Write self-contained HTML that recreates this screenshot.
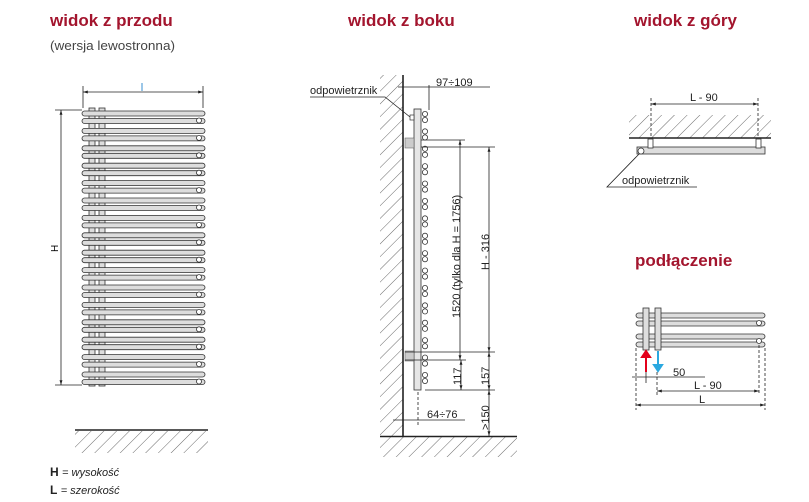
<!DOCTYPE html>
<html><head><meta charset="utf-8"><style>
html,body{margin:0;padding:0;background:#fff;}
svg{display:block;font-family:"Liberation Sans",sans-serif;}
.t{fill:#a3152e;font-weight:bold;font-size:17px;}
.s{font-size:11px;fill:#222;}
</style></head><body>
<svg id="s" width="809" height="502" viewBox="0 0 809 502" xmlns="http://www.w3.org/2000/svg">
<defs>
<pattern id="h" width="9" height="9" patternUnits="userSpaceOnUse" patternTransform="rotate(45)">
<line x1="0" y1="0" x2="0" y2="9" stroke="#444" stroke-width="0.8"/>
</pattern>
<marker id="a" viewBox="0 0 10 10" refX="10" refY="5" markerWidth="6" markerHeight="6" orient="auto-start-reverse"><path d="M0,2 L10,5 L0,8z" fill="#222"/></marker>
</defs>
<text class="t" x="50" y="26">widok z przodu</text>
<text x="50" y="50" font-size="13" fill="#444" textLength="125" lengthAdjust="spacingAndGlyphs">(wersja lewostronna)</text>
<text class="t" x="348" y="26">widok z boku</text>
<text class="t" x="634" y="26">widok z góry</text>
<text class="t" x="635" y="266">podłączenie</text>

<!-- front view -->
<g id="front" stroke="#333" stroke-width="0.8" fill="#ddd"></g>
<line x1="83" y1="92" x2="203" y2="92" stroke="#222" stroke-width="0.8" marker-start="url(#a)" marker-end="url(#a)"/>
<line x1="83" y1="86" x2="83" y2="108" stroke="#222" stroke-width="0.8"/>
<line x1="203" y1="86" x2="203" y2="108" stroke="#222" stroke-width="0.8"/>
<line x1="142" y1="83" x2="142" y2="91" stroke="#3a8fd0" stroke-width="1"/>
<line x1="55" y1="110" x2="82" y2="110" stroke="#222" stroke-width="0.8"/>
<line x1="55" y1="385" x2="82" y2="385" stroke="#222" stroke-width="0.8"/>
<line x1="61" y1="110" x2="61" y2="385" stroke="#222" stroke-width="0.8" marker-start="url(#a)" marker-end="url(#a)"/>
<text x="58" y="252" font-size="10" transform="rotate(-90 58 252)">H</text>
<rect x="75" y="431" width="133" height="22" fill="url(#h)"/>
<line x1="75" y1="430" x2="208" y2="430" stroke="#222" stroke-width="1.6"/>
<text x="50" y="476" font-size="12" fill="#222"><tspan font-weight="bold">H</tspan> <tspan font-style="italic" font-size="11">= wysokość</tspan></text>
<text x="50" y="494" font-size="12" fill="#222"><tspan font-weight="bold">L</tspan>  <tspan font-style="italic" font-size="11">= szerokość</tspan></text>

<!-- side view -->
<rect x="380" y="75" width="23" height="361" fill="url(#h)"/>
<rect x="380" y="437" width="137" height="20" fill="url(#h)"/>
<line x1="403" y1="75" x2="403" y2="437" stroke="#222" stroke-width="1.6"/>
<line x1="380" y1="436.5" x2="517" y2="436.5" stroke="#222" stroke-width="1.6"/>
<rect x="414" y="109" width="7" height="281" fill="#e6e6e6" stroke="#333" stroke-width="0.8"/>
<g id="side" fill="#fff" stroke="#333" stroke-width="0.8"></g>
<rect x="405" y="138" width="9" height="10" fill="#ccc" stroke="#555" stroke-width="0.5"/>
<rect x="405" y="351" width="9" height="10" fill="#ccc" stroke="#555" stroke-width="0.5"/>
<rect x="410" y="115" width="4" height="5" fill="#fff" stroke="#333" stroke-width="0.7"/>
<g stroke="#222" stroke-width="0.8" fill="none">
<line x1="398" y1="87" x2="490" y2="87"/>
<line x1="429" y1="85" x2="429" y2="110"/>
<line x1="421" y1="140" x2="465" y2="140"/>
<line x1="421" y1="147" x2="495" y2="147"/>
<line x1="405" y1="352" x2="495" y2="352"/>
<line x1="405" y1="360" x2="466" y2="360"/>
<line x1="425" y1="390" x2="495" y2="390"/>
<line x1="460" y1="140" x2="460" y2="360" marker-start="url(#a)" marker-end="url(#a)"/>
<line x1="489" y1="147" x2="489" y2="352" marker-start="url(#a)" marker-end="url(#a)"/>
<line x1="461" y1="360" x2="461" y2="390" marker-start="url(#a)" marker-end="url(#a)"/>
<line x1="489" y1="352" x2="489" y2="390" marker-start="url(#a)" marker-end="url(#a)"/>
<line x1="489" y1="390" x2="489" y2="436" marker-start="url(#a)" marker-end="url(#a)"/>
<line x1="393" y1="420" x2="465" y2="420"/>
<line x1="418" y1="392" x2="418" y2="425" stroke-dasharray="3,2"/>
<polyline points="310,97 385,97 410,117"/>
</g>
<text class="s" x="310" y="94">odpowietrznik</text>
<text class="s" x="436" y="86">97÷109</text>
<text class="s" x="427" y="418">64÷76</text>
<text class="s" transform="translate(460 318) rotate(-90)">1520 (tylko dla H = 1756)</text>
<text class="s" transform="translate(489 270) rotate(-90)">H - 316</text>
<text class="s" transform="translate(461 385) rotate(-90)">117</text>
<text class="s" transform="translate(489 385) rotate(-90)">157</text>
<text class="s" transform="translate(489 430) rotate(-90)">&gt;150</text>

<!-- top view -->
<rect x="629" y="115" width="142" height="23" fill="url(#h)"/>
<line x1="629" y1="138" x2="771" y2="138" stroke="#222" stroke-width="1.6"/>
<g stroke="#222" stroke-width="0.8" fill="none">
<line x1="651" y1="98" x2="651" y2="138" stroke-dasharray="3,2"/>
<line x1="758" y1="98" x2="758" y2="138" stroke-dasharray="3,2"/>
<line x1="651" y1="104" x2="758" y2="104" marker-start="url(#a)" marker-end="url(#a)"/>
<polyline points="640,153 607,187 697,187"/>
</g>
<text class="s" x="690" y="101">L - 90</text>
<rect x="637" y="147" width="128" height="7" fill="#ddd" stroke="#333" stroke-width="0.8"/>
<rect x="648" y="139" width="5" height="9" fill="#fff" stroke="#333" stroke-width="0.8"/>
<rect x="756" y="139" width="5" height="9" fill="#fff" stroke="#333" stroke-width="0.8"/>
<circle cx="641" cy="151" r="3" fill="#fff" stroke="#333" stroke-width="0.8"/>
<text class="s" x="622" y="184">odpowietrznik</text>

<!-- podłączenie -->
<g stroke="#333" stroke-width="0.8" fill="#ddd">
<rect x="636" y="313" width="129" height="5" rx="2.5"/>
<rect x="636" y="321" width="129" height="5" rx="2.5"/>
<rect x="636" y="334" width="129" height="5" rx="2.5"/>
<rect x="636" y="342" width="129" height="5" rx="2.5"/>
<rect x="643" y="308" width="6" height="42"/>
<rect x="655" y="308" width="6" height="42"/>
<circle cx="759" cy="323" r="2.5" fill="#fff"/>
<circle cx="759" cy="341" r="2.5" fill="#fff"/>
</g>
<path d="M646,372 L646,356 M642,357 L646,351 L650,357z" stroke="#e3001b" stroke-width="2" fill="#e3001b"/>
<path d="M658,351 L658,366 M654,365 L658,371 L662,365z" stroke="#2aa8e0" stroke-width="2" fill="#2aa8e0"/>
<g stroke="#222" stroke-width="0.8" fill="none">
<line x1="636" y1="348" x2="636" y2="410" stroke-dasharray="3,2"/>
<line x1="765" y1="348" x2="765" y2="410" stroke-dasharray="3,2"/>
<line x1="759" y1="345" x2="759" y2="395" stroke-dasharray="3,2"/>
<line x1="646" y1="372" x2="646" y2="383"/>
<line x1="657" y1="372" x2="657" y2="395" stroke-dasharray="3,2"/>
<line x1="632" y1="377" x2="705" y2="377"/>
<line x1="657" y1="391" x2="759" y2="391" marker-start="url(#a)" marker-end="url(#a)"/>
<line x1="636" y1="405" x2="765" y2="405" marker-start="url(#a)" marker-end="url(#a)"/>
</g>
<text class="s" x="673" y="376">50</text>
<text class="s" x="694" y="389">L - 90</text>
<text class="s" x="699" y="403">L</text>
</svg>
<script>
var NS="http://www.w3.org/2000/svg";
function el(g,t,a){var e=document.createElementNS(NS,t);for(var k in a)e.setAttribute(k,a[k]);g.appendChild(e);return e;}
var f=document.getElementById("front");
el(f,"rect",{x:89,y:108,width:6,height:278});
el(f,"rect",{x:99,y:108,width:6,height:278});
var sd=document.getElementById("side");
for(var i=0;i<16;i++){
 var y=111+i*17.4;
 el(f,"rect",{x:82,y:y,width:123,height:5,rx:2.5});
 el(f,"rect",{x:82,y:y+7.5,width:123,height:5,rx:2.5});
 el(f,"circle",{cx:199,cy:y+9.5,r:2.5,fill:"#fff"});
 el(sd,"circle",{cx:425,cy:y+3,r:2.6});
 el(sd,"circle",{cx:425,cy:y+9,r:2.6});
}
</script>
</body></html>
